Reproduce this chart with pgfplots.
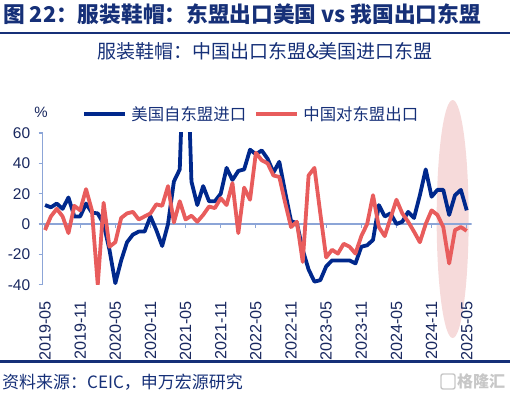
\documentclass[border=0pt]{standalone}
\usepackage{fontspec}
\setmainfont{Liberation Sans}
\newfontfamily\cjk{Noto Sans CJK SC}
\usepackage{pgfplots}
\pgfplotsset{compat=1.18}
\usepackage{pgfplotstable}
\definecolor{usblue}{RGB}{0,40,140}
\definecolor{cnred}{RGB}{232,92,92}
\definecolor{navy}{RGB}{22,48,120}
\definecolor{axblue}{RGB}{140,165,215}
\definecolor{ellpink}{RGB}{246,218,218}
\definecolor{tickcol}{RGB}{25,40,95}
\pgfdeclarelayer{bg}
\pgfsetlayers{bg,main}

\pgfplotstableread{
m us cn
0 12.5 -4
1 11 5
2 13.5 10
3 10 5
4 17.5 -6
5 5 12
6 5 9
7 13.5 23
8 7.5 9
9 7 -40
10 0 14
11 -17 -15
12 -39 -12
13 -24 4
14 -12 7
15 -7 8
16 -5 3
17 -5 5
18 5 7
19 -4 13
20 -14.5 12
21 0 25
22 28 1
23 36 15
24 150 3
25 28 5.5
26 12.5 1.5
27 25 6
28 15 11.5
29 15 10.5
30 20 17
31 37 12.5
32 29 27
33 35 -6
34 36 24
35 49 16
36 46 47
37 48.5 42
38 43 40
39 34 32
40 41 31
41 21 14
42 2 -2
43 0.5 1.5
44 -17 -25
45 -30 32
46 -38 37
47 -37 7
48 -28 -22
49 -24 -17
50 -24 -19.5
51 -24 -13
52 -24 -15
53 -26 -19.5
54 -15 -8
55 -14 0
56 -10.5 19
57 12.5 -2
58 5 -8
59 7 4
60 0 16
61 1.5 7
62 8 1.5
63 4 -5
64 19 -12
65 36 0
66 18 9
67 22.5 6
68 22.5 -2
69 6 -26
70 19 -4
71 22.5 -2
72 9 -4.5
}\datatab

\begin{document}
\begin{tikzpicture}
\useasboundingbox (0pt,0pt) rectangle (514pt,395pt);
\node[anchor=west, inner sep=0pt, text=navy, font=\cjk\bfseries\fontsize{21.7pt}{24pt}\selectfont] at (3pt,381pt) {图 22：服装鞋帽：东盟出口美国 vs 我国出口东盟};
\draw[navy, line width=2.5pt] (0pt,362pt) -- (510pt,362pt);
\node[inner sep=0pt, text=navy, font=\cjk\fontsize{19pt}{22pt}\selectfont] at (265pt,344pt) {服装鞋帽：中国出口东盟\&美国进口东盟};
\begin{axis}[
  at={(42.7pt,110.3pt)}, anchor=south west,
  scale only axis, width=429pt, height=151.7pt,
  xmin=-0.4, xmax=72.85, ymin=-40, ymax=60,
  axis y line=left, axis x line=bottom, axis line style={-},
  y axis line style={draw=axblue, line width=1.2pt},
  x axis line style={draw=none},
  xtick={0,6,...,72},
  xticklabels={2019-05,2019-11,2020-05,2020-11,2021-05,2021-11,2022-05,2022-11,2023-05,2023-11,2024-05,2024-11,2025-05},
  xtick style={draw=none},
  ytick={-40,-20,...,60},
  ytick style={draw=axblue, line width=1.2pt},
  tick align=outside, major tick length=4pt,
  /pgf/number format/assume math mode=true,
  yticklabel style={text=tickcol, font=\fontsize{15.5pt}{17pt}\selectfont},
  xticklabel style={rotate=90, anchor=east, text=tickcol, font=\fontsize{16.2pt}{18pt}\selectfont},
  xticklabel shift=9pt, yticklabel shift=5pt,
  legend columns=2,
  legend style={at={(0.0916,1.125)}, anchor=west, draw=none, fill=none, inner sep=0pt,
     nodes={inner sep=0pt, text=navy}, font=\cjk\fontsize{16.4pt}{18pt}\selectfont,
     /tikz/every odd column/.append style={column sep=4pt},
     /tikz/every even column/.append style={column sep=8pt}},
  legend image code/.code={\draw[#1,line width=4.2pt] (0pt,0pt) -- (41pt,0pt);},
]
\draw[axblue, line width=1.2pt] (axis cs:-0.4,0) -- (axis cs:72.85,0);
\pgfplotsinvokeforeach{0,6,...,72}{\draw[axblue, line width=1.2pt] (axis cs:#1,0) -- ++(0pt,-4pt);}
\addplot[usblue, line width=3.8pt, line join=round] table[x=m,y=us] {\datatab};
\addlegendentry{美国自东盟进口}
\addplot[cnred, line width=3.8pt, line join=round] table[x=m,y=cn] {\datatab};
\addlegendentry{中国对东盟出口}
\coordinate (ell) at (axis cs:69.6,3.3);
\end{axis}
\begin{pgfonlayer}{bg}
\fill[ellpink] (ell) ellipse [x radius=16pt, y radius=119pt];
\end{pgfonlayer}
\node[text=tickcol, font=\fontsize{15pt}{17pt}\selectfont, inner sep=0pt] at (41pt,283pt) {\%};
\draw[navy, line width=2.5pt] (0pt,33.3pt) -- (510pt,33.3pt);
\node[anchor=west, inner sep=0pt, text=navy, font=\cjk\fontsize{17pt}{19pt}\selectfont] at (2pt,13pt) {资料来源：CEIC，申万宏源研究};
\draw[black!22, line width=1.4pt, rounded corners=2pt] (441pt,6pt) rectangle (455pt,21pt);
\node[anchor=west, inner sep=0pt, text=black!22, font=\cjk\bfseries\fontsize{16pt}{18pt}\selectfont] at (457pt,13.5pt) {格隆汇};
\end{tikzpicture}
\end{document}
